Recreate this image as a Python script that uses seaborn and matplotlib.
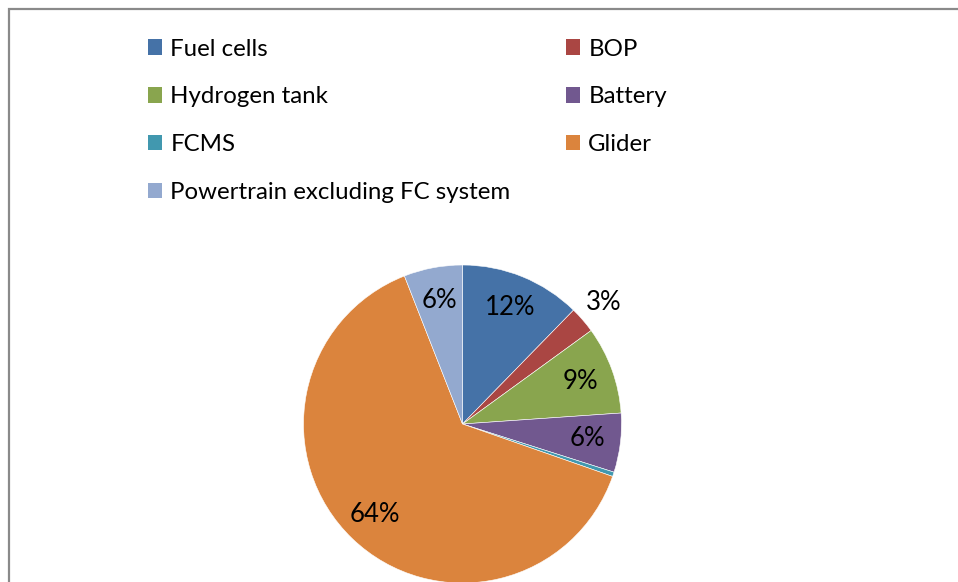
import matplotlib
matplotlib.use("Agg")
import matplotlib.pyplot as plt
from matplotlib.patches import Rectangle
import numpy as np
import seaborn as sns

sns.set_theme(style="white")
plt.rcParams['font.family'] = ['Lato', 'DejaVu Sans']
plt.rcParams['text.color'] = 'black'

# shares of the vehicle (percent)
parts = ["Fuel cells", "BOP", "Hydrogen tank", "Battery", "FCMS", "Glider",
         "Powertrain excluding FC system"]
shares = [12.3, 2.7, 8.9, 6.0, 0.45, 63.7, 5.95]
colors = sns.color_palette(["#4572A7", "#AA4643", "#89A54E", "#71588F",
                            "#4198AF", "#DB843D", "#93A9CF"])

W, H = 958, 582
fig = plt.figure(figsize=(W / 100, H / 100), dpi=100)

# chart frame (runs off the right and bottom edges)
fig.patches.append(Rectangle((8.5 / W, -0.1), 1.2, (H - 8.5) / H + 0.1,
                             transform=fig.transFigure, fill=False,
                             edgecolor="#8a8a8a", linewidth=1.6))

cx, cy, r = 462.5, 424, 159
ax = fig.add_axes([(cx - r) / W, (H - cy - r) / H, 2 * r / W, 2 * r / H])


def fmt(p):
    return "" if p < 1 else f"{p:.0f}%"


wedges, texts, autos = ax.pie(shares, colors=colors, startangle=90,
                              counterclock=False, autopct=fmt,
                              pctdistance=0.79,
                              wedgeprops=dict(edgecolor="white", linewidth=0.4),
                              textprops=dict(fontsize=18.5, color="black"))
# the small BOP label sits outside the pie
w = wedges[1]
ang = np.deg2rad((w.theta1 + w.theta2) / 2)
autos[1].set_position((1.17 * np.cos(ang), 1.17 * np.sin(ang)))
ax.set_xlim(-1, 1)
ax.set_ylim(-1, 1)
ax.set_aspect("equal")
ax.axis("off")

legend_kw = dict(frameon=False, fontsize=17.3, handlelength=0.6,
                 handleheight=0.6, handletextpad=0.33, labelspacing=1.12,
                 borderaxespad=0, borderpad=0, loc="upper left",
                 labelcolor="black")
left = [0, 2, 4, 6]
right = [1, 3, 5]
leg1 = fig.legend([wedges[i] for i in left], [parts[i] for i in left],
                  bbox_to_anchor=(148 / W, 1 - 38.5 / H), **legend_kw)
leg2 = fig.legend([wedges[i] for i in right], [parts[i] for i in right],
                  bbox_to_anchor=(566 / W, 1 - 38.5 / H), **legend_kw)
for leg in (leg1, leg2):
    for h in leg.legend_handles:
        h.set_edgecolor("none")

fig.savefig("out.png", dpi=100)
